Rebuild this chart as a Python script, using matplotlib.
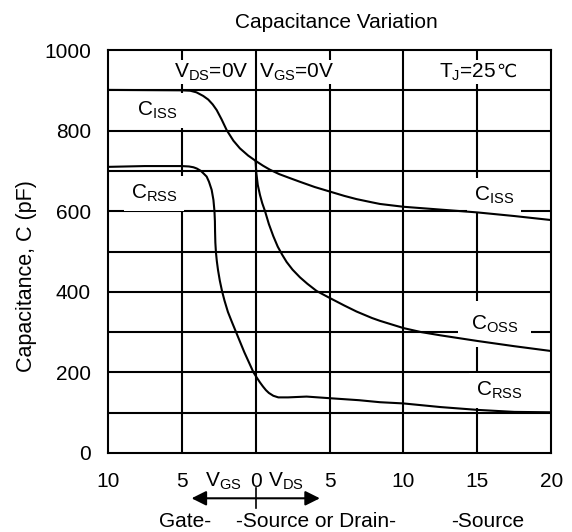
import matplotlib
matplotlib.use("Agg")
import matplotlib.pyplot as plt
import matplotlib.transforms as mtransforms

plt.rcParams['font.family'] = ['Liberation Sans', 'DejaVu Sans']
plt.rcParams['mathtext.fontset'] = 'custom'
plt.rcParams['mathtext.rm'] = 'Liberation Sans'
plt.rcParams['mathtext.default'] = 'regular'

# x: negative side is V_GS, positive side is V_DS (volts)
ciss_v = [-10, -5, -4.42, -4.0, -3.54, -3.2, -2.9, -2.63, -2.3, -1.95, -1.5,
          -1.06, -0.5, 0, 0.5, 0.97, 1.6, 2.33, 3.0, 4.0, 5, 6.0, 6.83, 7.87,
          8.41, 10, 12.5, 15, 17.5, 20]
ciss_c = [901, 900, 899, 895, 886, 877, 865, 851, 828, 801, 775,
          756, 738, 725, 713, 703, 692, 682, 673, 660, 649, 638, 630, 622,
          618, 611, 604, 597, 588, 578]

coss_v = [0.0, 0.05, 0.15, 0.3, 0.45, 0.64, 0.9, 1.2, 1.5, 1.8, 2.1, 2.5,
          3.0, 3.5, 4.13, 5, 6.0, 6.83, 7.87, 8.41, 10, 11.2, 12.5, 15, 17.5,
          20]
coss_c = [725, 695, 665, 640, 620, 600, 568, 538, 512, 492, 474, 455,
          436, 420, 402, 385, 366, 351, 335, 328, 310, 300, 292, 278, 265,
          253]

crss_v = [-10, -7.5, -5, -4.5, -4.2, -3.98, -3.7, -3.5, -3.31, -3.15, -2.97,
          -2.85, -2.78, -2.75, -2.74, -2.72, -2.68, -2.62, -2.54, -2.42,
          -2.27, -2.1, -1.87, -1.6, -1.32, -0.76, -0.14, 0.1, 0.3, 0.5, 0.7,
          0.9, 1.2, 1.54, 2.2, 3.45, 5, 7, 8.42, 10, 12.5, 15, 17.5, 20]
crss_c = [710, 712, 712, 711, 709, 706, 700, 693, 686, 673, 653,
          628, 600, 575, 550, 522, 498, 476, 454, 428,
          402, 378, 350, 325, 300, 250, 200, 186, 175, 165, 156,
          149, 142, 138, 138, 140, 136, 131, 126, 123, 114, 107, 102, 101]

xticks = [-10, -5, 0, 5, 10, 15, 20]
xticklabels = ['10', '5', '0', '5', '10', '15', '20']
yticks = [0, 200, 400, 600, 800, 1000]

fig = plt.figure(figsize=(5.72, 5.32), dpi=100)
ax = fig.add_axes([0.1883, 0.1485, 0.7755, 0.7575])
ax.set_xlim(-10, 20)
ax.set_ylim(0, 1000)

# grid every 5 V / 100 pF
for v in range(-5, 20, 5):
    ax.axvline(v, color='black', lw=1.5, zorder=1)
for c in range(100, 1000, 100):
    ax.axhline(c, color='black', lw=1.5, zorder=1)

for s in ax.spines.values():
    s.set_linewidth(1.5)

ax.set_xticks(xticks)
ax.set_xticklabels(xticklabels)
ax.set_yticks(yticks)
ax.tick_params(length=0, labelsize=15)
ax.tick_params(axis='x', pad=14)
ax.tick_params(axis='y', pad=12)

ax.plot(ciss_v, ciss_c, color='black', lw=1.5, zorder=4)
ax.plot(coss_v, coss_c, color='black', lw=1.5, zorder=4)
ax.plot(crss_v, crss_c, color='black', lw=1.5, zorder=4)

box = dict(facecolor='white', edgecolor='none', pad=5)
lab = dict(fontsize=15, ha='center', va='center', zorder=3, bbox=box)
ax.text(-6.63, 851, r'$C_{ISS}$', **lab)
ax.text(-6.87, 645, r'$C_{RSS}$', **lab)
ax.text(16.15, 640, r'$C_{ISS}$', **lab)
ax.text(16.15, 320, r'$C_{OSS}$', fontsize=15, ha='center', va='center',
        zorder=3, bbox=dict(facecolor='white', edgecolor='none', pad=9))
ax.text(16.5, 156, r'$C_{RSS}$', **lab)

top = dict(fontsize=15, va='center', zorder=3,
           bbox=dict(facecolor='white', edgecolor='none', pad=1))
ax.text(-2.97, 945, r'$V_{DS}$=0V', ha='center', **top)
ax.text(2.8, 945, r'$V_{GS}$=0V', ha='center', **top)
tj = ax.text(16.3, 945, r'$T_J$=25', ha='right', **top)
ax.annotate('℃', xy=(1, 0.5), xycoords=tj, ha='left', va='center',
            fontsize=13, family='DejaVu Sans', zorder=3,
            bbox=dict(facecolor='white', edgecolor='none', pad=1))

# axis annotation below the x ticks
trans = mtransforms.blended_transform_factory(ax.transData, ax.transAxes)
ax.text(-2.2, -0.071, r'$V_{GS}$', transform=trans, fontsize=15,
        ha='center', va='center')
ax.text(2.06, -0.071, r'$V_{DS}$', transform=trans, fontsize=15,
        ha='center', va='center')
ax.annotate('', xy=(-4.33, -0.1124), xytext=(4.35, -0.1124),
            xycoords=trans, textcoords=trans,
            arrowprops=dict(arrowstyle='<|-|>', color='black', lw=1.5,
                            mutation_scale=22, shrinkA=0, shrinkB=0))
ax.plot([0, 0], [-0.0868, -0.1365], color='black', lw=1.2,
        transform=trans, clip_on=False)
ax.text(-4.77, -0.1705, 'Gate-', transform=trans, fontsize=15,
        ha='center', va='center')
ax.text(4.08, -0.1705, '-Source or Drain-', transform=trans, fontsize=15,
        ha='center', va='center')
ax.text(15.71, -0.1705, '-Source', transform=trans, fontsize=15,
        ha='center', va='center')

fig.text(336 / 572, 1 - 22 / 532, 'Capacitance Variation', fontsize=15,
         ha='center', va='center')
fig.text(27 / 572, 1 - 276 / 532, 'Capacitance, C (pF)', fontsize=15.5,
         rotation=90, ha='center', va='center')

fig.savefig('out.png', dpi=100)
